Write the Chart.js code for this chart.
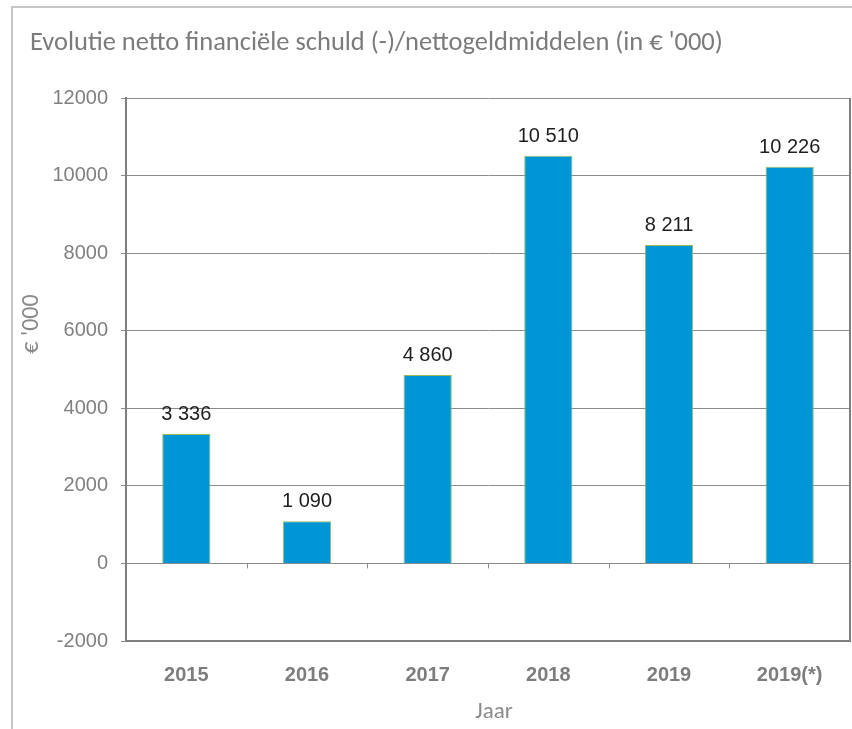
<!DOCTYPE html>
<html>
<head>
<meta charset="utf-8">
<script src="https://cdn.jsdelivr.net/npm/chart.js@4.4.1/dist/chart.umd.min.js"></script>
<style>
  html, body { margin: 0; padding: 0; background: #fff; }
  #wrap { position: relative; width: 852px; height: 729px; overflow: hidden; }
  #frame { position: absolute; left: 11px; top: 6px; width: 860px; height: 740px;
           border-left: 2px solid #c6c6c6; border-top: 2px solid #c6c6c6; }
  canvas { position: absolute; left: 0; top: 0; }
</style>
</head>
<body>
<div id="wrap">
  <div id="frame"></div>
  <canvas id="c" width="852" height="729"></canvas>
</div>
<script>
const chartTitle = "Evolutie netto financiële schuld (-)/nettogeldmiddelen (in € '000)";
const yAxisTitle = "€ '000";
const xAxisTitle = "Jaar";
const categories = ["2015", "2016", "2017", "2018", "2019", "2019(*)"];
const values = [3336, 1090, 4860, 10510, 8211, 10226];
const yMin = -2000;
const yMax = 12000;
const yStep = 2000;

function fmt(v) {
  return String(v).replace(/\B(?=(\d{3})+(?!\d))/g, " ");
}

const decor = {
  id: 'decor',
  beforeDraw(chart) {
    const ctx = chart.ctx;
    ctx.save();
    // title
    let size = 22;
    ctx.font = size + "px Carlito, 'Noto Sans', sans-serif";
    const w = ctx.measureText(chartTitle).width;
    size = size * 693 / w;
    ctx.font = size + "px Carlito, 'Noto Sans', sans-serif";
    ctx.fillStyle = '#7b7b7b';
    ctx.textAlign = 'left';
    ctx.textBaseline = 'middle';
    ctx.fillText(chartTitle, 30, 43);
    // x title
    ctx.font = "23px Carlito, 'Noto Sans', sans-serif";
    ctx.fillStyle = '#8a8a8a';
    ctx.textAlign = 'center';
    ctx.fillText(xAxisTitle, 494, 712);
    // y title
    ctx.font = "24px Carlito, 'Noto Sans', sans-serif";
    ctx.translate(32, 324);
    ctx.rotate(-Math.PI / 2);
    ctx.fillText(yAxisTitle, 0, 0);
    ctx.restore();
  },
  afterDraw(chart) {
    const ctx = chart.ctx;
    const a = chart.chartArea;
    const xs = chart.scales.x;
    const ys = chart.scales.y;
    ctx.save();
    // right border
    ctx.strokeStyle = '#7f7f7f';
    ctx.lineWidth = 2;
    ctx.beginPath();
    ctx.moveTo(a.right, a.top);
    ctx.lineTo(a.right, a.bottom + 1);
    ctx.stroke();
    // tick marks on zero line between categories
    const y0 = ys.getPixelForValue(0);
    ctx.strokeStyle = '#8c8c8c';
    ctx.lineWidth = 1;
    for (let i = 0; i < categories.length - 1; i++) {
      const x = Math.round((xs.getPixelForTick(i) + xs.getPixelForTick(i + 1)) / 2) + 0.5;
      ctx.beginPath();
      ctx.moveTo(x, y0);
      ctx.lineTo(x, y0 + 5);
      ctx.stroke();
    }
    // value labels
    const meta = chart.getDatasetMeta(0);
    ctx.font = "20px 'Liberation Sans', Arial, sans-serif";
    ctx.fillStyle = '#1e1e1e';
    ctx.textAlign = 'center';
    ctx.textBaseline = 'alphabetic';
    meta.data.forEach((el, i) => {
      ctx.fillText(fmt(values[i]), el.x, el.y - 14);
    });
    ctx.restore();
  }
};

new Chart(document.getElementById('c'), {
  type: 'bar',
  data: {
    labels: categories,
    datasets: [{
      data: values,
      backgroundColor: '#0096d6',
      borderColor: '#9aba5a',
      borderWidth: 1,
      barPercentage: 0.4,
      categoryPercentage: 1.0
    }]
  },
  options: {
    responsive: false,
    animation: false,
    events: [],
    layout: { padding: { top: 98, right: 2, left: 0, bottom: 0 } },
    plugins: { legend: { display: false }, tooltip: { enabled: false }, title: { display: false } },
    scales: {
      x: {
        afterFit(s) { s.height = 88; },
        grid: { display: false, drawTicks: false },
        border: { display: true, color: '#7f7f7f', width: 2 },
        ticks: {
          padding: 22,
          color: '#7d7d7d',
          font: { family: "'Liberation Sans', Arial, sans-serif", size: 20, weight: 'bold' }
        }
      },
      y: {
        min: yMin,
        max: yMax,
        afterFit(s) { s.width = 126; },
        grid: { color: '#8c8c8c', lineWidth: 1, tickLength: 5 },
        border: { display: true, color: '#7f7f7f', width: 2 },
        ticks: {
          stepSize: yStep,
          padding: 13,
          color: '#808080',
          font: { family: "'Liberation Sans', Arial, sans-serif", size: 20 },
          callback: (v) => String(v)
        }
      }
    }
  },
  plugins: [decor]
});
</script>
</body>
</html>
